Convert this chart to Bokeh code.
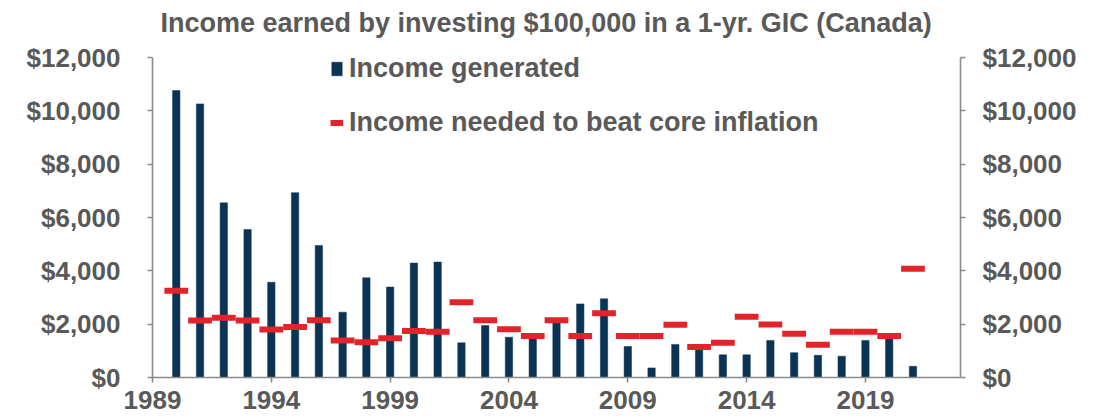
from bokeh.plotting import figure
from bokeh.models import Range1d, LinearAxis, FixedTicker, NumeralTickFormatter, Legend, LegendItem
from bokeh.embed import file_html
from bokeh.resources import INLINE

# ---- data ----
years = list(range(1990, 2022))
income_generated = [10760, 10260, 6550, 5550, 3570, 6930, 4950, 2450, 3740, 3390,
                    4290, 4330, 1300, 1950, 1510, 1490, 2070, 2760, 2950, 1160,
                    360, 1240, 1070, 850, 850, 1390, 930, 830, 800, 1390, 1490, 420]
income_needed = [3250, 2140, 2240, 2140, 1800, 1890, 2150, 1390, 1320, 1470,
                 1740, 1720, 2820, 2150, 1810, 1560, 2150, 1560, 2410, 1560,
                 1560, 1980, 1140, 1300, 2280, 1990, 1640, 1230, 1720, 1720, 1560, 4080]
x_tick_labels = [1989, 1994, 1999, 2004, 2009, 2014, 2019]
y_ticks = [0, 2000, 4000, 6000, 8000, 10000, 12000]
title_text = "Income earned by investing $100,000 in a 1-yr. GIC (Canada)"
series_names = ["Income generated", "Income needed to beat core inflation"]

FONT = "Liberation Sans"
TXT = "#595959"
AX = "#8a8a8a"
NAVY = "#0B3454"
RED = "#E3232A"

# frame spans 337 px; 320 px of it hold 0..12000, the rest is headroom for the legend
y_top = y_ticks[-1] * 337 / 320

p = figure(width=1100, height=420, x_range=Range1d(1989, 2023), y_range=Range1d(0, y_top),
           output_backend="svg", toolbar_location=None,
           min_border_left=152, min_border_right=140, min_border_top=40, min_border_bottom=43)

p.title.text = title_text
p.title.text_font = FONT
p.title.text_font_style = "bold"
p.title.text_font_size = "27px"
p.title.text_color = TXT
p.title.align = "left"
p.title.standoff = 5
p.title.offset = 8

p.xgrid.visible = False
p.ygrid.visible = False
p.outline_line_color = None
p.background_fill_color = "white"
p.border_fill_color = "white"

bars = p.vbar(x=years, top=income_generated, width=0.31, bottom=0,
              fill_color=NAVY, line_color=NAVY, line_width=0.5)

half = [0.5] * len(years)
x0 = [y - h for y, h in zip(years, half)]
x1 = [y + h for y, h in zip(years, half)]
dashes = p.segment(x0=x0, y0=income_needed, x1=x1, y1=income_needed,
                   line_color=RED, line_width=6, line_cap="butt")

def style_axis(ax):
    ax.axis_line_color = AX
    ax.axis_line_width = 1.6
    ax.major_tick_line_color = AX
    ax.major_tick_line_width = 1.6
    ax.major_tick_in = 0
    ax.major_tick_out = 5
    ax.minor_tick_line_color = None
    ax.axis_label_standoff = 0
    ax.major_label_text_font = FONT
    ax.major_label_text_font_style = "bold"
    ax.major_label_text_font_size = "26px"
    ax.major_label_text_color = TXT

# x axis
xa = p.xaxis[0]
xa.ticker = FixedTicker(ticks=x_tick_labels)
style_axis(xa)
xa.major_label_standoff = 8

# left y axis
ya = p.yaxis[0]
ya.ticker = FixedTicker(ticks=y_ticks)
ya.formatter = NumeralTickFormatter(format="$0,0")
ya.bounds = (y_ticks[0], y_ticks[-1])
style_axis(ya)
ya.major_label_standoff = 27

# right y axis
yr = LinearAxis(ticker=FixedTicker(ticks=y_ticks), formatter=NumeralTickFormatter(format="$0,0"),
                bounds=(y_ticks[0], y_ticks[-1]))
style_axis(yr)
yr.major_label_standoff = 17
p.add_layout(yr, "right")

legend = Legend(items=[LegendItem(label=series_names[0], renderers=[bars]),
                       LegendItem(label=series_names[1], renderers=[dashes])],
                location=(178, 239), padding=0, margin=0, spacing=23,
                glyph_width=13, glyph_height=17, label_standoff=6,
                label_text_font=FONT, label_text_font_style="bold",
                label_text_font_size="27px", label_text_color=TXT,
                border_line_color=None, background_fill_alpha=0)
p.add_layout(legend)

open("out.html", "w").write(file_html(p, INLINE))
